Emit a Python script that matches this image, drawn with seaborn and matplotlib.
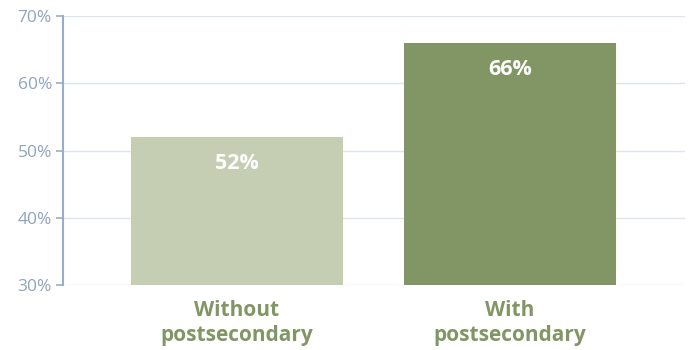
import matplotlib
matplotlib.use("Agg")
import matplotlib.pyplot as plt
import seaborn as sns
import pandas as pd

categories = ["Without\npostsecondary", "With\npostsecondary"]
values = [52, 66]
bar_colors = ["#c5cdb3", "#819664"]
y_ticks = [30, 40, 50, 60, 70]

sns.set_style("white")
plt.rcParams["font.family"] = ["Open Sans", "DejaVu Sans"]

df = pd.DataFrame({"group": categories, "share": values})

fig = plt.figure(figsize=(6.9, 3.5), dpi=100)
ax = fig.add_axes([0.0913, 0.1857, 0.9015, 0.7683])

sns.barplot(data=df, x="group", y="share", hue="group",
            palette=bar_colors, width=0.777, saturation=1,
            linewidth=0, edgecolor="none",
            legend=False, ax=ax, zorder=3)

ax.set_ylim(30, 70)
ax.set_xlim(-0.637, 1.641)
ax.set_yticks(y_ticks)
ax.set_yticklabels([f"{t}%" for t in y_ticks])
ax.yaxis.grid(True, color="#dde3ef", linewidth=1, zorder=0)
ax.set_axisbelow(True)

for s in ["top", "right", "bottom"]:
    ax.spines[s].set_visible(False)
ax.spines["left"].set_color("#9aaccc")
ax.spines["left"].set_linewidth(1.5)

ax.tick_params(axis="y", colors="#9aaccc", labelcolor="#8fa3c0",
               length=5, width=1.2, labelsize=12.5, left=True, pad=3)
ax.tick_params(axis="x", length=0, labelsize=15, labelcolor="#819664", pad=11)
for lbl in ax.get_xticklabels():
    lbl.set_fontweight("bold")
    lbl.set_linespacing(1.25)

ax.set_xlabel("")
ax.set_ylabel("")

for i, v in enumerate(values):
    ax.annotate(f"{v}%", xy=(i, v), xytext=(0, -19), textcoords="offset points",
                ha="center", va="center", color="white", fontweight="bold",
                fontsize=15.5)

fig.savefig("out.png", dpi=100)
